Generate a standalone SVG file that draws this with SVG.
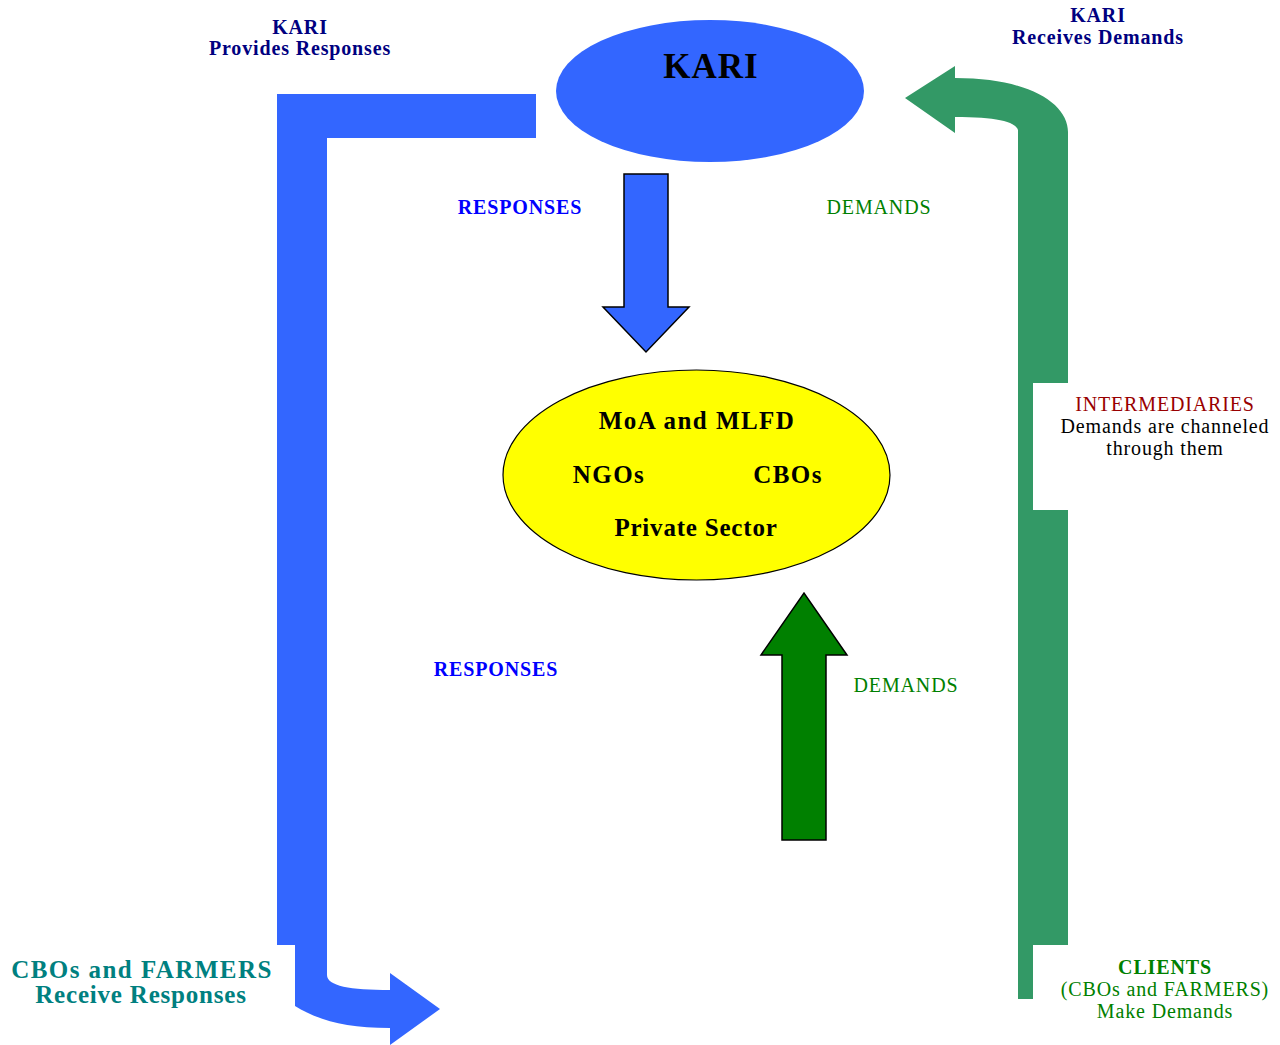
<svg xmlns="http://www.w3.org/2000/svg" width="1280" height="1045" viewBox="0 0 1280 1045">
<style>
text{font-family:"Liberation Serif","Times New Roman",serif;text-anchor:middle}
.b{font-weight:bold}
.s{font-size:20px;letter-spacing:0.85px}
.l{font-size:25px;letter-spacing:1.45px}
.l2{font-size:25px;letter-spacing:0.8px}
.navy{fill:#000080}
.blue{fill:#0000FF}
.grn{fill:#008000}
.big{fill:#339966}
.bl{fill:#3366FF}
</style>
<rect width="1280" height="1045" fill="#FFFFFF"/>
<g id="connectors">
<path class="bl" d="M277,94 L536,94 L536,138 L327,138 L327,945 L277,945 Z"/>
<path class="bl" d="M295,940 L327,940 L327,975 C327,986 350,990 390,990 L390,973 L440,1009 L390,1045 L390,1028 C345,1028 318,1020 295,1006 Z"/>
<path class="big" d="M1018,999 L1018,130 C1015,121 995,117 955,117 L955,133 L905,98 L955,66 L955,78 C1030,78 1068,104 1068,132 L1068,383 L1033,383 L1033,510 L1068,510 L1068,945 L1033,945 L1033,999 Z"/>
<path fill="#3366FF" stroke="#000" stroke-width="1.5" d="M624,174 L668,174 L668,307 L689,307 L646,352 L603,307 L624,307 Z"/>
<path fill="#008000" stroke="#000" stroke-width="1.5" d="M782,840 L826,840 L826,655 L847,655 L804,593 L761,655 L782,655 Z"/>
</g>
<g id="kari">
<ellipse cx="710" cy="91" rx="154" ry="71" fill="#3366FF"/>
<text x="711" y="78" class="b" font-size="35" letter-spacing="1">KARI</text>
</g>
<g id="intermediaries-node">
<ellipse cx="696.5" cy="475" rx="193.5" ry="105" fill="#FFFF00" stroke="#000" stroke-width="1.2"/>
<text x="697" y="429" class="b l">MoA and MLFD</text>
<text x="609" y="483" class="b l">NGOs</text>
<text x="788" y="483" class="b l">CBOs</text>
<text x="696" y="536" class="b l2">Private Sector</text>
</g>
<g id="labels">
<text x="300" y="34" class="b s navy">KARI</text>
<text x="300" y="55" class="b s navy">Provides Responses</text>
<text x="1098" y="22" class="b s navy">KARI</text>
<text x="1098" y="44" class="b s navy">Receives Demands</text>
<text x="520" y="214" class="b s blue">RESPONSES</text>
<text x="879" y="214" class="s grn">DEMANDS</text>
<text x="496" y="676" class="b s blue">RESPONSES</text>
<text x="906" y="692" class="s grn">DEMANDS</text>
<text x="1165" y="411" class="s" fill="#990000">INTERMEDIARIES</text>
<text x="1165" y="433" class="s" fill="#000">Demands are channeled</text>
<text x="1165" y="455" class="s" fill="#000">through them</text>
<text x="142" y="978" class="b l" fill="#008080">CBOs and FARMERS</text>
<text x="141" y="1003" class="b l2" fill="#008080">Receive Responses</text>
<text x="1165" y="974" class="b s grn">CLIENTS</text>
<text x="1165" y="996" class="s grn">(CBOs and FARMERS)</text>
<text x="1165" y="1018" class="s grn">Make Demands</text>
</g>
</svg>
